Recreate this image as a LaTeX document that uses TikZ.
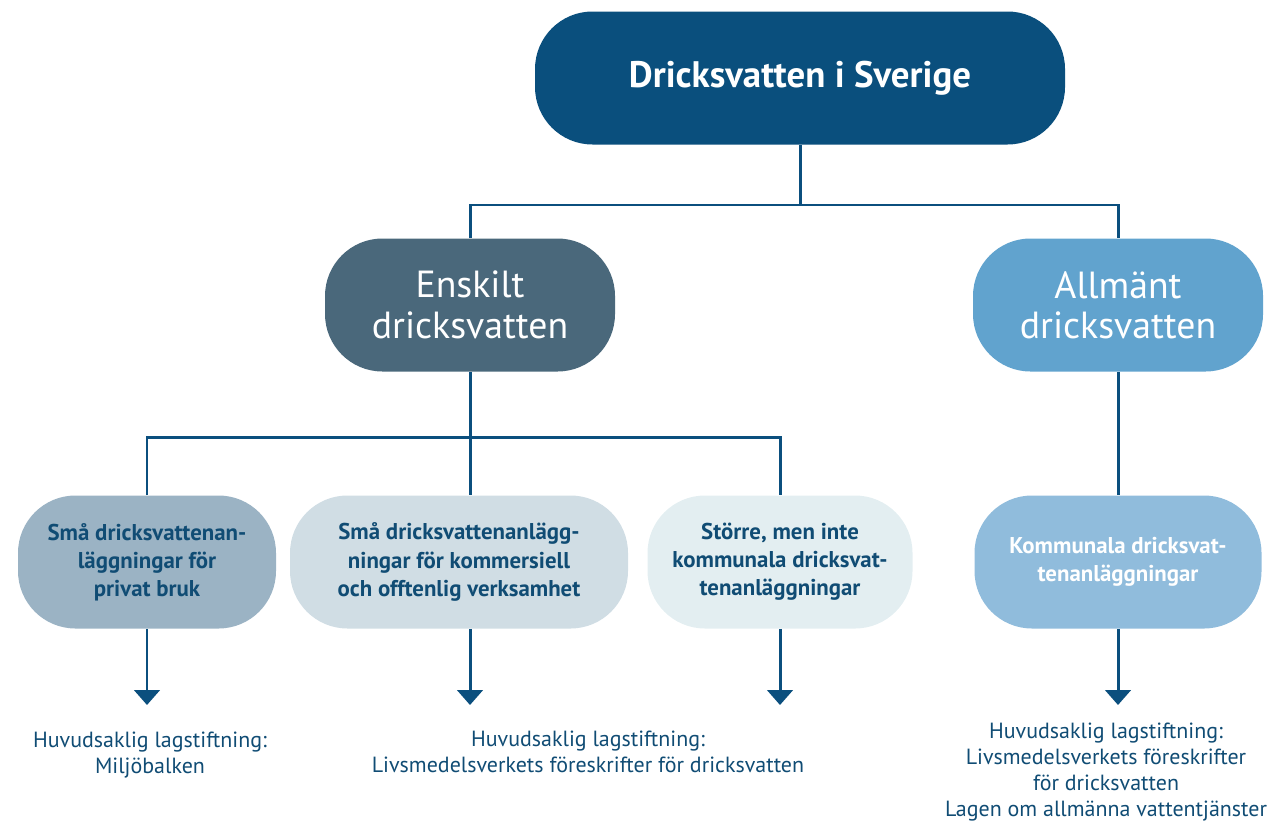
\documentclass[tikz,border=0pt]{standalone}
\usepackage{fontspec}
\setmainfont{PT Sans}
\usetikzlibrary{arrows.meta}

\definecolor{topc}{HTML}{0A4F7D}
\definecolor{enskc}{HTML}{4A687B}
\definecolor{allmc}{HTML}{61A3CE}
\definecolor{smaone}{HTML}{9BB3C4}
\definecolor{smatwo}{HTML}{D0DDE4}
\definecolor{smathree}{HTML}{E3EEF1}
\definecolor{kommc}{HTML}{90BCDC}
\definecolor{linec}{HTML}{0B4F7E}
\definecolor{textc}{HTML}{104C74}

\tikzset{
  pill/.style={rectangle, rounded corners=1.15cm, minimum height=133*0.02cm,
    align=center, inner sep=0pt},
  midbox/.style={pill, text=white, minimum width=290*0.02cm,
    font=\fontsize{21.5}{23}\selectfont},
  smallbox/.style={pill, text=textc,
    font=\bfseries\fontsize{13}{16}\selectfont},
  link/.style={draw=linec, line width=1.7pt},
  downarrow/.style={link, -{Triangle[width=14.5pt,length=8.5pt]}},
  law/.style={align=center, text=textc, font=\fontsize{12.5}{14.8}\selectfont},
}

\begin{document}
\begin{tikzpicture}[x=0.02cm,y=-0.02cm]
  \useasboundingbox (0,0) rectangle (1270,825);

  % top level
  \node[pill, fill=topc, text=white, minimum width=530*0.02cm,
    font=\bfseries\fontsize{21}{25}\selectfont] (top) at (800,78) {Dricksvatten i Sverige};

  % second level
  \node[midbox, fill=enskc] (ensk) at (470,305) {Enskilt\\dricksvatten};
  \node[midbox, fill=allmc] (allm) at (1118,305) {Allmänt\\dricksvatten};

  % third level
  \node[smallbox, fill=smaone, minimum width=258*0.02cm] (sma1) at (147,562)
    {Små dricksvattenan-\\läggningar för\\privat bruk};
  \node[smallbox, fill=smatwo, minimum width=338*0.02cm] (sma2) at (459,562)
    {Små dricksvattenanlägg-\\ningar för kommersiell\\och offtenlig verksamhet};
  \node[smallbox, fill=smathree, minimum width=265*0.02cm] (sma3) at (780,562)
    {Större, men inte\\kommunala dricksvat-\\tenanläggningar};
  \node[smallbox, fill=kommc, text=white, minimum width=287*0.02cm] (komm) at (1118,562)
    {Kommunala dricksvat-\\tenanläggningar};

  % connectors
  \coordinate (split1) at (800,205);
  \coordinate (split2) at (470,437);
  \draw[link] (top.south) -- (split1);
  \draw[link] (ensk.north) |- (split1) -| (allm.north);
  \draw[link] (ensk.south) -- (split2);
  \draw[link] (sma1.north) |- (split2) -| (sma3.north);
  \draw[link] (split2) -- (split2 |- sma2.north);
  \draw[link] (allm.south) -- (komm.north);

  % arrows to the laws
  \coordinate (end1) at (147,705);
  \coordinate (end2) at (470,705);
  \coordinate (end3) at (780,705);
  \coordinate (end4) at (1118,705);
  \draw[downarrow] (sma1.south) -- (end1);
  \draw[downarrow] (split2 |- sma2.south) -- (end2);
  \draw[downarrow] (sma3.south) -- (end3);
  \draw[downarrow] (komm.south) -- (end4);

  % laws
  \node[law] (law1) at (150,755) {Huvudsaklig lagstiftning:\\Miljöbalken};
  \node[law] (law2) at (588,752) {Huvudsaklig lagstiftning:\\Livsmedelsverkets föreskrifter för dricksvatten};
  \node[law] (law3) at (1106,772) {Huvudsaklig lagstiftning:\\Livsmedelsverkets föreskrifter\\för dricksvatten\\Lagen om allmänna vattentjänster};
\end{tikzpicture}
\end{document}
